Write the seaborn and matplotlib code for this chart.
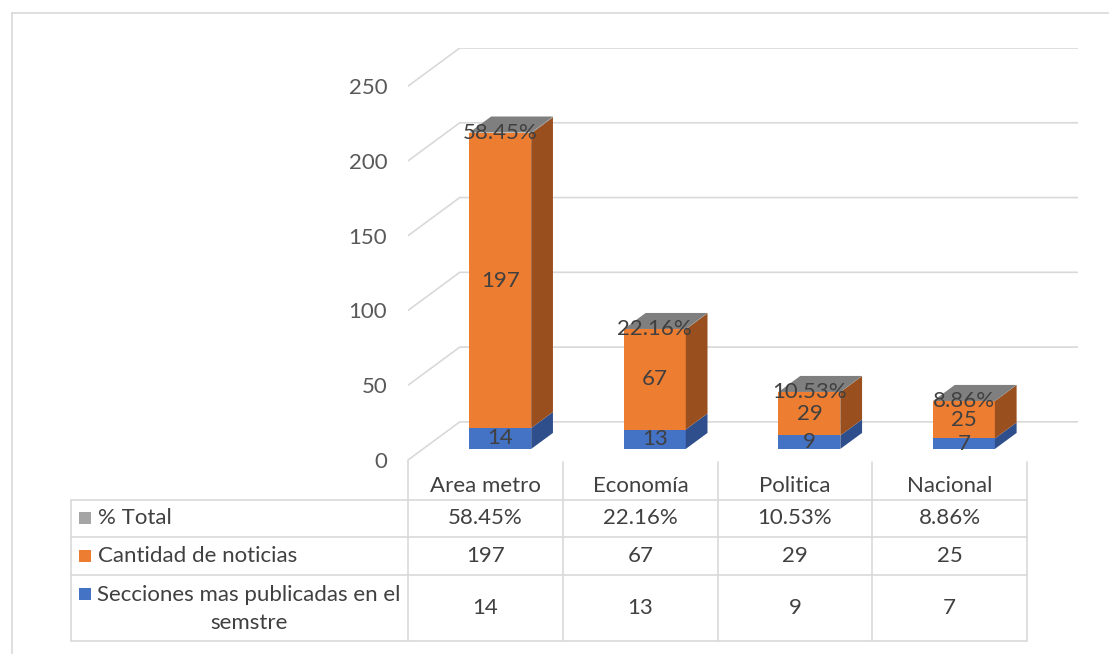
import numpy as np
import matplotlib.pyplot as plt
from matplotlib.patches import Polygon
import seaborn as sns

sns.set_theme(style='white')
plt.rcParams['font.family'] = ['Lato', 'DejaVu Sans']

categories = ['Area metro', 'Economía', 'Politica', 'Nacional']
secciones = [14, 13, 9, 7]
cantidad = [197, 67, 29, 25]
pct_total = [0.5845, 0.2216, 0.1053, 0.0886]
pct_labels = ['58.45%', '22.16%', '10.53%', '8.86%']
series_names = ['% Total', 'Cantidad de noticias', 'Secciones mas publicadas en el\nsemstre']
yticks = [0, 50, 100, 150, 200, 250]

FRONT = {'blue': '#4472C4', 'orange': '#ED7D31', 'gray': '#A5A5A5'}
SIDE = {'blue': '#2F4F8C', 'orange': '#9A4F1E', 'gray': '#7F7F7F'}
GRID = '#D9D9D9'
TXT = '#404040'
FS = 16

W, H = 1109, 654
fig = plt.figure(figsize=(W / 100, H / 100), dpi=100)


def px_rect(x0, y0, x1, y1):
    return [x0 / W, 1 - y1 / H, (x1 - x0) / W, (y1 - y0) / H]


# overlay in pixel coords for the data table and frame
oax = fig.add_axes([0, 0, 1, 1])
oax.set_xlim(0, W)
oax.set_ylim(H, 0)
oax.axis('off')

ax = fig.add_axes(px_rect(408, 48, 1078, 460))
ax.set_facecolor('none')
DX, DY = 0.335, 25.5          # wall depth in data units
D0, BD = 0.29, 0.42           # bar front depth and bar thickness (fraction of wall)
BW = 0.4
ax.set_xlim(-0.5, 3.5 + DX)
ax.set_ylim(0, 250 + DY)
for s in ax.spines.values():
    s.set_visible(False)
ax.set_xticks([])
ax.set_yticks(yticks)
ax.set_yticklabels([str(v) for v in yticks])
ax.tick_params(axis='y', length=0, pad=15, labelsize=FS, labelcolor='#595959')

# back wall gridlines with the left diagonal
for v in yticks:
    ax.plot([-0.5, -0.5 + DX, 3.5 + DX], [v, v + DY, v + DY], color=GRID, lw=1.2,
            zorder=1, solid_joinstyle='miter')

x = np.arange(len(categories)) + D0 * DX
yoff = D0 * DY
stack = [(secciones, 'blue'), (cantidad, 'orange'), (pct_total, 'gray')]
bottom = np.zeros(len(categories))
for vals, c in stack:
    vals = np.array(vals, dtype=float)
    ax.bar(x, vals, bottom=bottom + yoff, width=BW, color=FRONT[c], zorder=3, linewidth=0)
    for i in range(len(categories)):
        xr = x[i] + BW / 2
        yb, yt = bottom[i] + yoff, bottom[i] + vals[i] + yoff
        ax.add_patch(Polygon([(xr, yb), (xr + BD * DX, yb + BD * DY),
                              (xr + BD * DX, yt + BD * DY), (xr, yt)],
                             closed=True, facecolor=SIDE[c], edgecolor='none', zorder=3))
    bottom = bottom + vals

# top faces
for i in range(len(categories)):
    xl, xr = x[i] - BW / 2, x[i] + BW / 2
    yt = bottom[i] + yoff
    ax.add_patch(Polygon([(xl, yt), (xr, yt), (xr + BD * DX, yt + BD * DY),
                          (xl + BD * DX, yt + BD * DY)],
                         closed=True, facecolor=SIDE['gray'], edgecolor='none', zorder=3))

# data labels
for i in range(len(categories)):
    ax.text(x[i], secciones[i] / 2 + yoff, str(secciones[i]), ha='center', va='center',
            fontsize=FS, color=TXT, zorder=5)
    ax.text(x[i], secciones[i] + cantidad[i] / 2 + yoff, str(cantidad[i]), ha='center',
            va='center', fontsize=FS, color=TXT, zorder=5)
    ax.text(x[i], bottom[i] + yoff, pct_labels[i], ha='center', va='center',
            fontsize=FS, color=TXT, zorder=5)

# data table
col_edges = [408, 563, 718, 872, 1027]
row_edges = [500, 537, 575, 641]
lw = 1.2
for xe in col_edges:
    oax.plot([xe, xe], [460 if xe == 408 else 462, row_edges[-1]], color=GRID, lw=lw)
oax.plot([71, 71], [row_edges[0], row_edges[-1]], color=GRID, lw=lw)
for ye in row_edges:
    oax.plot([71, 1027], [ye, ye], color=GRID, lw=lw)

centers = [(col_edges[k] + col_edges[k + 1]) / 2 for k in range(4)]
for k, cat in enumerate(categories):
    oax.text(centers[k], 486, cat, ha='center', va='center', fontsize=FS, color=TXT)

table_rows = [
    (pct_labels, 'gray', 518),
    ([str(v) for v in cantidad], 'orange', 556),
    ([str(v) for v in secciones], 'blue', 608),
]
for (vals, c, yc), name in zip(table_rows, series_names):
    for k, v in enumerate(vals):
        oax.text(centers[k], yc, v, ha='center', va='center', fontsize=FS, color=TXT)

# row headers with legend keys
key_ys = [518, 556, 594]
for name, c, ky in zip(series_names, ['gray', 'orange', 'blue'], key_ys):
    oax.add_patch(plt.Rectangle((79, ky - 6), 12, 12, facecolor=FRONT[c], edgecolor='none'))
    if '\n' in name:
        oax.text(249, 609, name, ha='center', va='center', fontsize=FS, color=TXT,
                 multialignment='center', linespacing=1.45)
    else:
        oax.text(98, ky, name, ha='left', va='center', fontsize=FS, color=TXT)

# outer frame
oax.plot([11.5, 11.5], [H, 13], color=GRID, lw=1.2)
oax.plot([11.5, W], [13, 13], color=GRID, lw=1.2)

fig.savefig('out.png', dpi=100)
